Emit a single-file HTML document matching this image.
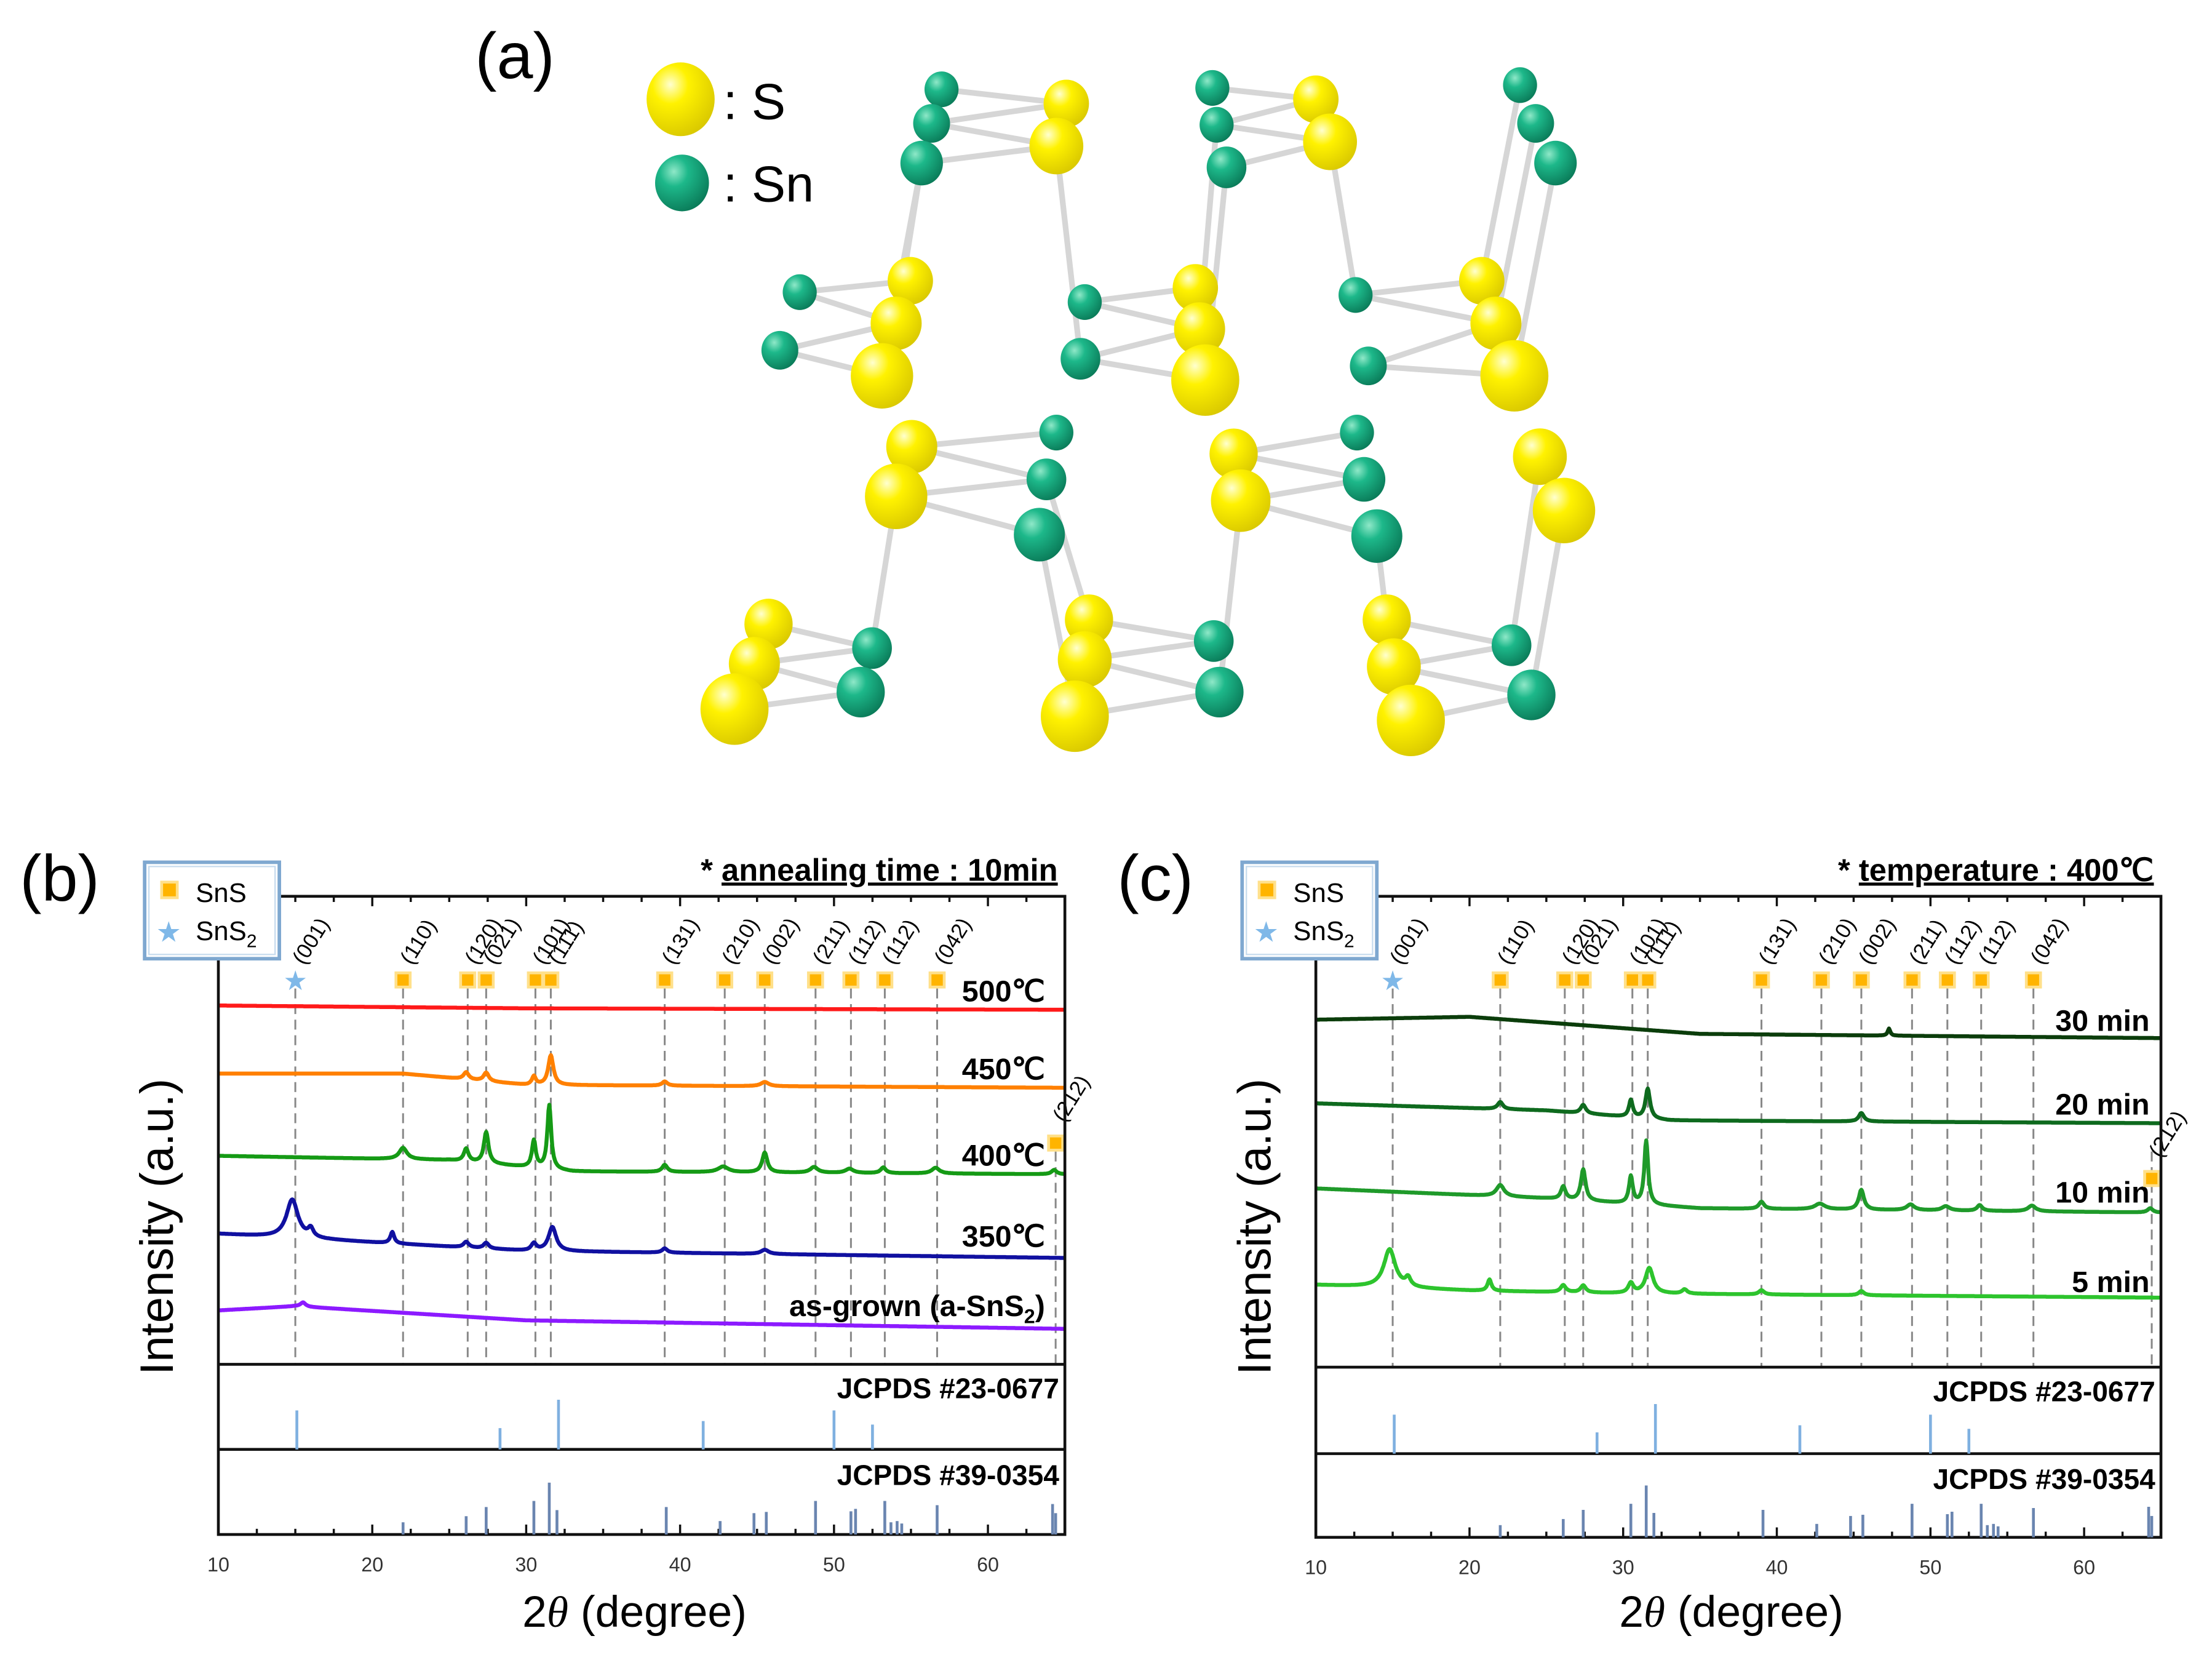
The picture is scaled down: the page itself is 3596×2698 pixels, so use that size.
<!DOCTYPE html>
<html><head><meta charset="utf-8"><style>
html,body{margin:0;padding:0;background:#fff}
svg{display:block}
text{font-family:"Liberation Sans",sans-serif}
</style></head><body>
<svg id="fig" width="3596" height="2698" viewBox="0 0 1560 1170.5" preserveAspectRatio="none" xmlns="http://www.w3.org/2000/svg">
<defs>
<radialGradient id="gy" cx="35%" cy="30%" r="75%"><stop offset="0" stop-color="#ffffd0"/><stop offset="0.35" stop-color="#fff200"/><stop offset="1" stop-color="#d9c800"/></radialGradient>
<radialGradient id="gg" cx="35%" cy="30%" r="75%"><stop offset="0" stop-color="#8fe8c8"/><stop offset="0.35" stop-color="#1db88a"/><stop offset="1" stop-color="#0a7a58"/></radialGradient>
</defs>
<g id="panelA"></g>
<g id="panelB"></g>
<g id="panelC"></g>
</svg>
<script>
const NS="http://www.w3.org/2000/svg";
function mk(parent,tag,attrs,txt){const e=document.createElementNS(NS,tag);for(const k in attrs)e.setAttribute(k,attrs[k]);if(txt!==undefined)e.textContent=txt;parent.appendChild(e);return e;}

// ---------- data ----------
const hklPeaks=[15.0,22.0,26.2,27.4,30.6,31.6,39.0,42.9,45.5,48.8,51.1,53.3,56.7,64.4];
const hklLabels=["(001)","(110)","(120)","(021)","(101)","(111)","(131)","(210)","(002)","(211)","(112)","(112)","(042)","(212)"];
const ref1Pos=[15.1,28.3,32.1,41.5,50.0,52.5];
const ref1Int=[55,30,70,40,55,35];
const ref2Pos=[22.0,26.1,27.4,30.5,31.5,32.0,39.1,42.6,44.8,45.6,48.8,51.1,51.4,53.3,53.7,54.1,54.4,56.7,64.2,64.4];
const ref2Int=[20,30,45,55,85,40,45,22,35,37,55,38,42,55,20,22,18,48,50,35];

const bNames=["500℃","450℃","400℃","350℃","as-grown"];
const bColors=["#ff1a1a","#ff8000","#159a15","#1010a0","#8c1aff"];
const bBaseX=[[10,30,65],[10,22,30,65],[10,25,33,65],[10,20,30,65],[10,15,30,65]];
const bBaseY=[[709,711,712],[757,757,765,767],[815,818,826,828],[870,876,882,887],[924,921,931,937]];
const bPeakPos=[[],[26.1,27.4,30.5,31.6,39,45.5],[22.0,26.1,27.4,30.5,31.5,39,42.8,45.5,48.7,51,53.2,56.6,64.3],[14.8,16.0,21.3,26.1,27.4,30.5,31.7,39,45.5],[15.5]];
const bPeakH=[[],[5,6,6,21,3,3],[8,9,22,19,45,5,4,14,4,3,4,4,3],[27,6,8,4,4,5,17,3,3],[3]];
const bPeakW=[[],[0.2,0.2,0.15,0.2,0.2,0.3],[0.3,0.18,0.18,0.15,0.15,0.2,0.4,0.2,0.3,0.3,0.2,0.3,0.2],[0.45,0.2,0.15,0.2,0.2,0.2,0.3,0.2,0.3],[0.2]];
const bLabelY=[706,761,822,879,928];

const cNames=["30 min","20 min","10 min","5 min"];
const cColors=["#0b3d0b","#0e6a1e","#1f9a2a","#2dc42d"];
const cBaseX=[[10,20,35,65],[10,25,33,65],[10,25,35,65],[10,20,30,65]];
const cBaseY=[[719,717,729,732],[778,783,790,792],[838,845,852,855],[906,910,912,915]];
const cPeakPos=[[47.3],[22.0,27.4,30.5,31.6,45.5],[22.0,26.1,27.4,30.5,31.5,39,42.8,45.5,48.7,51,53.2,56.6,64.3],[14.8,16.0,21.3,26.1,27.4,30.5,31.7,34,39,45.5]];
const cPeakH=[[5],[5,6,12,21,6],[8,9,22,19,45,5,4,14,4,3,4,4,3],[27,6,8,5,5,7,18,3,3,3]];
const cPeakW=[[0.1],[0.2,0.2,0.15,0.18,0.2],[0.3,0.18,0.18,0.15,0.15,0.2,0.4,0.2,0.3,0.3,0.2,0.3,0.2],[0.45,0.2,0.15,0.2,0.2,0.2,0.3,0.2,0.2,0.2]];
const cLabelY=[727,786,848,911];

// ---------- panel a ----------
const A=document.getElementById('panelA');
const atoms=[
 ['g',664,63,12],['g',657,87,13],['g',650,115,15],['y',752,73,16],['y',745,103,19],
 ['g',855,62,12],['g',858,88,12],['g',865,118,14],['y',928,70,16],['y',938,100,19],
 ['g',1072,60,12],['g',1083,87,13],['g',1097,115,15],
 ['g',564,206,12],['g',550,247,13],['y',642,198,16],['y',632,228,18],['y',622,265,22],
 ['g',765,213,12],['g',762,253,14],['y',843,203,16],['y',846,232,18],['y',850,268,24],
 ['g',956,208,12],['g',965,258,13],['y',1045,198,16],['y',1055,228,18],['y',1068,265,24],
 ['y',643,315,18],['y',632,350,22],['g',745,305,12],['g',738,338,14],['g',733,377,18],
 ['y',870,320,17],['y',875,353,21],['g',957,305,12],['g',962,338,15],['g',971,378,18],
 ['y',1086,322,19],['y',1103,360,22],
 ['y',542,440,17],['y',532,468,18],['y',518,500,24],['g',615,457,14],['g',607,488,17],
 ['y',768,437,17],['y',765,465,19],['y',758,505,24],['g',856,452,14],['g',860,488,17],
 ['y',978,437,17],['y',983,470,19],['y',995,508,24],['g',1066,455,14],['g',1080,490,17]];
const bonds=[[0,3],[1,3],[1,4],[2,4],[5,8],[6,8],[6,9],[7,9],[13,15],[13,16],[14,16],[14,17],[18,20],[18,21],[19,21],[19,22],[23,25],[23,26],[24,26],[24,27],
 [2,17],[2,16],[4,19],[7,22],[6,21],[9,23],[11,26],[12,27],[10,25],
 [28,30],[28,31],[29,31],[29,32],[33,35],[33,36],[34,36],[34,37],
 [40,43],[41,43],[41,44],[42,44],[45,48],[46,48],[46,49],[47,49],[50,53],[51,53],[51,54],[52,54],
 [29,43],[32,47],[31,45],[34,49],[37,50],[39,54],[38,53]];
const bg=mk(A,'g',{stroke:'#d6d6d6','stroke-width':4,'stroke-linecap':'round'});
bonds.forEach(b=>{const p=atoms[b[0]],q=atoms[b[1]];mk(bg,'line',{x1:p[1],y1:p[2],x2:q[1],y2:q[2]});});
const ag=mk(A,'g',{});
atoms.forEach(a=>{mk(ag,'ellipse',{cx:a[1],cy:a[2],rx:a[3],ry:a[3]*1.05,fill:a[0]==='y'?'url(#gy)':'url(#gg)'});});
mk(A,'text',{x:335,y:55,'font-size':46,},'(a)');
mk(A,'ellipse',{cx:480,cy:70,rx:24,ry:26,fill:'url(#gy)',});
mk(A,'text',{x:510,y:84,'font-size':36,},': S');
mk(A,'ellipse',{cx:481,cy:129,rx:19,ry:20,fill:'url(#gg)',});
mk(A,'text',{x:510,y:142,'font-size':36,},': Sn');

// ---------- xrd panels ----------
function panel(G,o){
 const x0=o.x0,x1=o.x1,top=632,mb=o.mb,r1=o.r1,r2=o.r2;
 const X=d=>x0+(d-10)*(x1-x0)/55;
 mk(G,'text',{x:o.lx,y:635,'font-size':46,},o.label);
 const dg=mk(G,'g',{stroke:'#888','stroke-width':1.3,'stroke-dasharray':'7,4'});
 hklPeaks.forEach((p,i)=>{mk(dg,'line',{x1:X(p),x2:X(p),y1:i===13?812:697,y2:mb});});
 o.names.forEach((n,i)=>{
  let d='';
  for(let t=10;t<=65.0001;t+=0.05){
   const bx=o.bx[i],by=o.by[i];let k=0;while(k<bx.length-2&&t>bx[k+1])k++;
   let y=by[k]+(by[k+1]-by[k])*(t-bx[k])/(bx[k+1]-bx[k]);
   o.pp[i].forEach((p,j)=>{const u=(t-p)/o.pw[i][j];y-=o.ph[i][j]/(1+u*u);});
   d+=(d?'L':'M')+X(t).toFixed(1)+','+y.toFixed(1);
  }
  const path=mk(G,'path',{d:d,fill:'none',stroke:o.colors[i],'stroke-width':2.8,'stroke-linejoin':'round'});
  
  
  const t=mk(G,'text',{x:o.labX,y:o.ly[i],'font-size':21,'font-weight':'bold','text-anchor':'end'});
  
  
  if(n==='as-grown'){t.textContent='as-grown (a-SnS';mk(t,'tspan',{'font-size':14,dy:5},'2');mk(t,'tspan',{dy:-5},')');}
  else t.textContent=n;
 });
 const mg=mk(G,'g',{});
 hklPeaks.forEach((p,i)=>{
  const my=i===13?o.m212:691;
  if(i===0){mk(mg,'text',{x:X(p),y:my+7,'font-size':19,fill:'#7fb8e8','text-anchor':'middle'},'★');}
  else mk(mg,'rect',{x:X(p)-5,y:my-5,width:10,height:10,fill:'#ffb400',stroke:'#ffe08a','stroke-width':2});
  const ly=i===13?my-14:681;
  mk(mg,'text',{x:X(p)+6,y:ly,'font-size':15,transform:`rotate(-58 ${X(p)+6} ${ly})`},hklLabels[i]);
 });
 const fr=mk(G,'g',{fill:'none',stroke:'#111','stroke-width':2});
 mk(fr,'rect',{x:x0,y:top,width:x1-x0,height:r2-top});
 mk(fr,'line',{x1:x0,x2:x1,y1:mb,y2:mb});
 mk(fr,'line',{x1:x0,x2:x1,y1:r1,y2:r1});
 const tg=mk(G,'g',{stroke:'#111','stroke-width':1.5});
 for(let v=10;v<=65;v+=2.5){const L=(v%10===0)?7:4;mk(tg,'line',{x1:X(v),x2:X(v),y1:r2,y2:r2-L});mk(tg,'line',{x1:X(v),x2:X(v),y1:top,y2:top+L});}
 const tl=mk(G,'g',{'font-size':14,fill:'#333','text-anchor':'middle'});
 [10,20,30,40,50,60].forEach(v=>mk(tl,'text',{x:X(v),y:r2+26},String(v)));
 const s1=mk(G,'g',{stroke:'#7fb0e0','stroke-width':2});
 ref1Pos.forEach((p,i)=>mk(s1,'line',{x1:X(p),x2:X(p),y1:r1,y2:r1-ref1Int[i]*0.5}));
 const s2=mk(G,'g',{stroke:'#6a85b0','stroke-width':2});
 ref2Pos.forEach((p,i)=>mk(s2,'line',{x1:X(p),x2:X(p),y1:r2,y2:r2-ref2Int[i]*0.43}));
 mk(G,'text',{x:x1-4,y:mb+24,'font-size':20,'font-weight':'bold','text-anchor':'end',},'JCPDS #23-0677');
 mk(G,'text',{x:x1-4,y:r1+25,'font-size':20,'font-weight':'bold','text-anchor':'end',},'JCPDS #39-0354');
 const an=mk(G,'text',{x:x1-5,y:621,'font-size':22,'font-weight':'bold','text-anchor':'end',});
 an.textContent='* ';
 mk(an,'tspan',{'text-decoration':'underline'},o.note);
 const xt=mk(G,'text',{x:(x0+x1)/2-5,y:1147,'font-size':31,'text-anchor':'middle',},'2');
 mk(xt,'tspan',{'font-family':'Liberation Serif, serif','font-style':'italic'},'θ');mk(xt,'tspan',{},' (degree)');
 mk(G,'text',{x:x0-32,y:865,'font-size':33,'text-anchor':'middle',transform:`rotate(-90 ${x0-32} 865)`,},'Intensity (a.u.)');
 const lg=mk(G,'g',{});
 mk(lg,'rect',{x:o.x0-52,y:608,width:95,height:68,fill:'#fff',stroke:'#7fa8d0','stroke-width':2.5});
 mk(lg,'rect',{x:o.x0-49,y:611,width:89,height:62,fill:'none',stroke:'#c8dcee','stroke-width':1});
 mk(lg,'rect',{x:o.x0-40,y:622,width:11,height:11,fill:'#ffb400',stroke:'#ffe08a','stroke-width':2});
 mk(lg,'text',{x:o.x0-16,y:636,'font-size':19},'SnS');
 mk(lg,'text',{x:o.x0-35,y:664,'font-size':20,fill:'#7fb8e8','text-anchor':'middle'},'★');
 const t2=mk(lg,'text',{x:o.x0-16,y:663,'font-size':19},'SnS');mk(t2,'tspan',{'font-size':13,dy:5},'2');
}
panel(document.getElementById('panelB'),{x0:154,x1:751,mb:962,r1:1022,r2:1082,lx:14,label:'(b)',names:bNames,colors:bColors,bx:bBaseX,by:bBaseY,pp:bPeakPos,ph:bPeakH,pw:bPeakW,ly:bLabelY,labX:737,note:'annealing time : 10min',m212:806});
panel(document.getElementById('panelC'),{x0:928,x1:1524,mb:964,r1:1025,r2:1084,lx:788,label:'(c)',names:cNames,colors:cColors,bx:cBaseX,by:cBaseY,pp:cPeakPos,ph:cPeakH,pw:cPeakW,ly:cLabelY,labX:1516,note:'temperature : 400℃',m212:831});
</script>
</body></html>
